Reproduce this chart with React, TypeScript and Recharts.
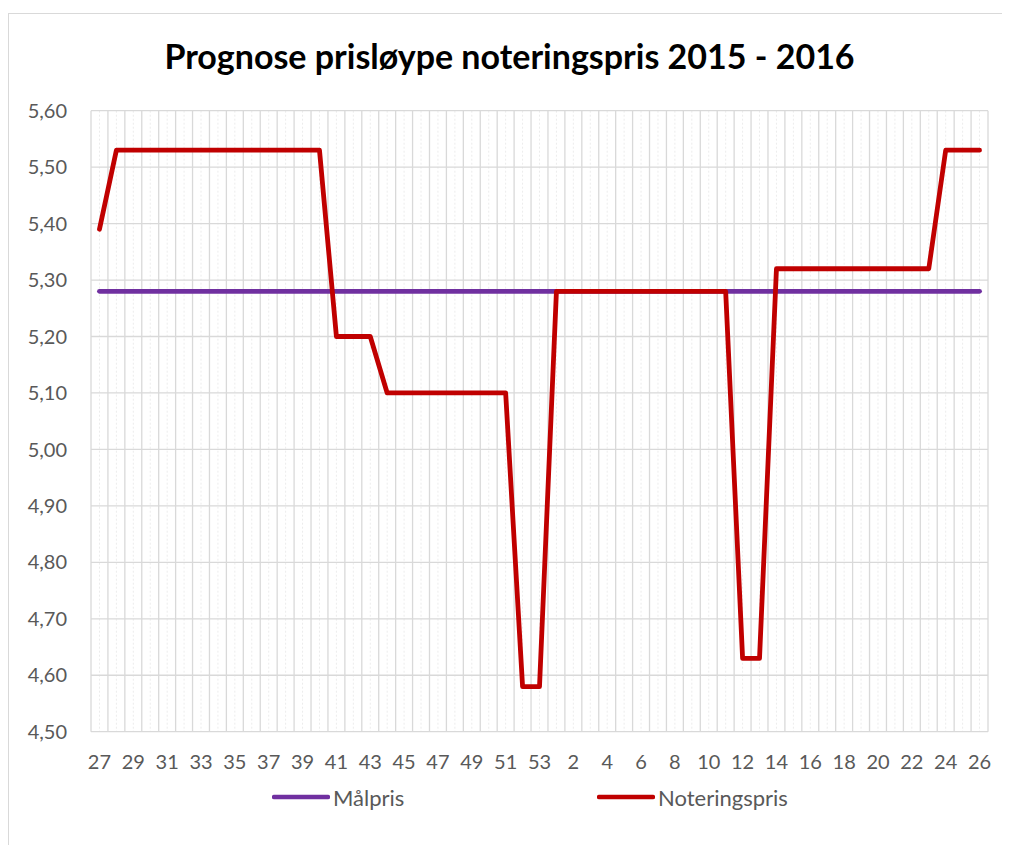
import React from 'react';
import { LineChart, Line, XAxis, YAxis, CartesianGrid, Legend } from 'recharts';

const weeks: number[] = [
  27, 28, 29, 30, 31, 32, 33, 34, 35, 36, 37, 38, 39, 40, 41, 42, 43, 44, 45, 46, 47, 48, 49, 50, 51, 52, 53,
  1, 2, 3, 4, 5, 6, 7, 8, 9, 10, 11, 12, 13, 14, 15, 16, 17, 18, 19, 20, 21, 22, 23, 24, 25, 26,
];

const noteringspris: number[] = [
  5.39, 5.53, 5.53, 5.53, 5.53, 5.53, 5.53, 5.53, 5.53, 5.53, 5.53, 5.53, 5.53, 5.53,
  5.2, 5.2, 5.2, 5.1, 5.1, 5.1, 5.1, 5.1, 5.1, 5.1, 5.1, 4.58, 4.58,
  5.28, 5.28, 5.28, 5.28, 5.28, 5.28, 5.28, 5.28, 5.28, 5.28, 5.28, 4.63, 4.63,
  5.32, 5.32, 5.32, 5.32, 5.32, 5.32, 5.32, 5.32, 5.32, 5.32, 5.53, 5.53, 5.53,
];

const malpris: number[] = [
  5.28, 5.28, 5.28, 5.28, 5.28, 5.28, 5.28, 5.28, 5.28, 5.28, 5.28, 5.28, 5.28, 5.28,
  5.28, 5.28, 5.28, 5.28, 5.28, 5.28, 5.28, 5.28, 5.28, 5.28, 5.28, 5.28, 5.28,
  5.28, 5.28, 5.28, 5.28, 5.28, 5.28, 5.28, 5.28, 5.28, 5.28, 5.28, 5.28, 5.28,
  5.28, 5.28, 5.28, 5.28, 5.28, 5.28, 5.28, 5.28, 5.28, 5.28, 5.28, 5.28, 5.28,
];

const yTicks: number[] = [4.5, 4.6, 4.7, 4.8, 4.9, 5.0, 5.1, 5.2, 5.3, 5.4, 5.5, 5.6];

const title = 'Prognose prisløype noteringspris 2015 - 2016';
const seriesNames = { malpris: 'Målpris', noteringspris: 'Noteringspris' };

const data = weeks.map((w, i) => ({
  idx: i,
  week: w,
  malpris: malpris[i],
  noteringspris: noteringspris[i],
}));

// tick positions: every other category
const xTicks = data.filter((d) => d.idx % 2 === 0).map((d) => d.idx);
const domainMin = -0.5;
const domainMax = weeks.length - 0.5;
const boundaries = [-1, ...data.map((d) => d.idx)].map((i) => i + 0.5);
const centers = data.map((d) => d.idx);

const FONT = 'Lato, "Open Sans", sans-serif';
const GRID = '#d9d9d9';

const toX = (v: number, offset: any) => {
  return offset.left + ((v - domainMin) / (domainMax - domainMin)) * offset.width;
};

const boundaryGen = (props: any) => boundaries.map((v) => toX(v, props.offset));
const centerGen = (props: any) => centers.map((v) => toX(v, props.offset));

const LegendContent = (props: any) => {
  const payload = props.payload || [];
  return (
    <div style={{ display: 'flex', fontFamily: FONT }}>
      {payload.map((p: any) => (
        <div key={p.value} style={{ width: 325, display: 'flex', alignItems: 'center', height: 26 }}>
          <svg width={58} height={8} style={{ display: 'block' }}>
            <line x1={2} y1={4} x2={56} y2={4} stroke={p.color} strokeWidth={4.5} strokeLinecap="round" />
          </svg>
          <span style={{ fontSize: 22, color: '#595959', marginLeft: 3 }}>{p.value}</span>
        </div>
      ))}
    </div>
  );
};

export default function App() {
  return (
    <div
      style={{
        position: 'relative',
        width: 1002,
        height: 832,
        marginTop: 5,
        borderTop: `1px solid ${GRID}`,
        borderLeft: `1px solid ${GRID}`,
        boxSizing: 'border-box',
        fontFamily: FONT,
        background: '#fff',
        overflow: 'hidden',
      }}
    >
      <style>{'html, body { overflow: hidden; }'}</style>
      <div
        style={{
          position: 'absolute',
          top: 22,
          left: 0,
          width: 1001,
          textAlign: 'center',
          fontSize: 34,
          fontWeight: 700,
          color: '#000',
          fontFamily: FONT,
          lineHeight: '40px',
          whiteSpace: 'nowrap',
        }}
      >
        {title}
      </div>
      <div style={{ position: 'absolute', top: 0, left: 0 }}>
        <LineChart
          width={1001}
          height={831}
          data={data}
          margin={{ top: 96.7, right: 22, bottom: 83.3, left: 0 }}
        >
          <CartesianGrid
            stroke="#ececec"
            strokeDasharray="2 2"
            horizontal={false}
            verticalCoordinatesGenerator={centerGen}
          />
          <CartesianGrid
            stroke={GRID}
            strokeWidth={1.3}
            verticalCoordinatesGenerator={boundaryGen}
          />
          <XAxis
            dataKey="idx"
            type="number"
            domain={[domainMin, domainMax]}
            ticks={xTicks}
            interval={0}
            tickFormatter={(v: number) => String(weeks[v])}
            axisLine={false}
            tickLine={false}
            tickSize={0}
            tickMargin={23}
            height={30}
            tick={{ fill: '#595959', fontSize: 20, fontFamily: FONT }}
          />
          <YAxis
            type="number"
            domain={[4.5, 5.6]}
            ticks={yTicks}
            interval={0}
            tickFormatter={(v: number) => v.toFixed(2).replace('.', ',')}
            axisLine={false}
            tickLine={false}
            tickSize={0}
            tickMargin={24}
            width={82}
            tick={{ fill: '#595959', fontSize: 20, fontFamily: FONT }}
          />
          <Legend
            layout="horizontal"
            verticalAlign="middle"
            align="center"
            wrapperStyle={{ left: 263, top: 770, width: 700 }}
            content={LegendContent}
          />
          <Line
            dataKey="malpris"
            name={seriesNames.malpris}
            stroke="#7030A0"
            strokeWidth={4.8}
            dot={false}
            activeDot={false}
            strokeLinecap="round"
            strokeLinejoin="round"
            isAnimationActive={false}
            type="linear"
          />
          <Line
            dataKey="noteringspris"
            name={seriesNames.noteringspris}
            stroke="#C00000"
            strokeWidth={4.8}
            dot={false}
            activeDot={false}
            strokeLinecap="round"
            strokeLinejoin="round"
            isAnimationActive={false}
            type="linear"
          />
        </LineChart>
      </div>
    </div>
  );
}
